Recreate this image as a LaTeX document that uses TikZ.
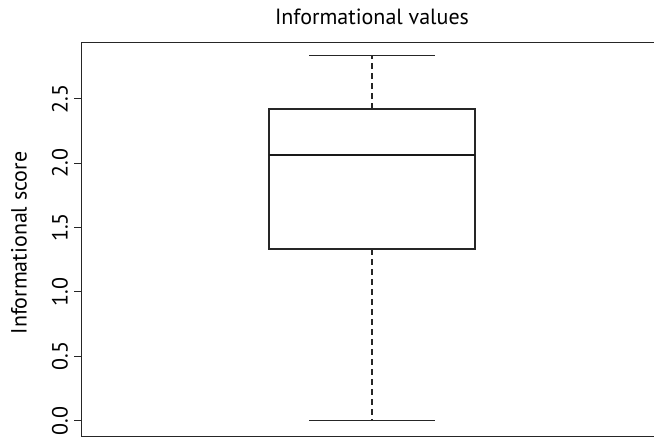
\documentclass[tikz,border=0pt]{standalone}
\usepackage{fontspec}
\setmainfont{PT Sans}
\begin{document}
\begin{tikzpicture}[x=1pt,y=-1pt]
% Styles
\tikzstyle{cadre}=[line width=1.4pt,black!85]
\tikzstyle{boite}=[line width=1.3pt,black!85]
\tikzstyle{mediane}=[line width=2pt,black!90]
\tikzstyle{moustache}=[line width=1.1pt,black!85,dash pattern=on 6pt off 4pt]
\tikzstyle{graduation}=[line width=1pt,black!85]
\tikzstyle{etiquette}=[rotate=90,font=\fontsize{22}{26}\selectfont,inner sep=0pt]
\tikzstyle{titre}=[font=\fontsize{22}{26}\selectfont,inner sep=0pt]
% Dimensions
\def\Zero{420.7}
\def\Unite{128.8}
\def\Centre{372}
\def\DemiBoite{103}
\def\DemiCap{63}
\def\Y#1{\Zero-\Unite*(#1)}
\useasboundingbox (0,0) rectangle (654,439);
% Cadre
\coordinate (HG) at (81.3,42.7);
\coordinate (BG) at (81.3,436.7);
\coordinate (HD) at (660,42.7);
\coordinate (BD) at (660,436.7);
\draw[cadre] (HD) -- (HG) -- (BG) -- (BD);
% Graduations
\foreach \v/\t/\n in {0/0.0/a,0.5/0.5/b,1/1.0/c,1.5/1.5/d,2/2.0/e,2.5/2.5/f}{
  \coordinate (g\n) at (81.3,{\Y{\v}});
  \draw[graduation] (g\n) -- ++(-7,0);
  \node[etiquette] (l\n) at (60,{\Y{\v}}) {\t};
}
% Titres
\node[titre] (titre) at (\Centre,17) {Informational values};
\node[etiquette] (axe) at (19,243) {Informational score};
% Boite
\coordinate (Q1G) at ({\Centre-\DemiBoite},{\Y{1.333}});
\coordinate (Q3D) at ({\Centre+\DemiBoite},{\Y{2.42}});
\coordinate (MedG) at ({\Centre-\DemiBoite},155.3);
\coordinate (MedD) at ({\Centre+\DemiBoite},155.3);
\coordinate (Bas) at (\Centre,{\Y{1.333}});
\coordinate (Haut) at (\Centre,{\Y{2.42}});
\coordinate (Min) at (\Centre,{\Y{0}});
\coordinate (Max) at (\Centre,{\Y{2.834}});
\draw[boite] (Q1G) rectangle (Q3D);
\draw[mediane] (MedG) -- (MedD);
% Moustaches
\draw[moustache] (Bas) -- (Min);
\draw[moustache] (Haut) -- (Max);
\draw[boite] ([xshift=-\DemiCap pt]Min) -- ([xshift=\DemiCap pt]Min);
\draw[boite] ([xshift=-\DemiCap pt]Max) -- ([xshift=\DemiCap pt]Max);
\end{tikzpicture}
\end{document}
